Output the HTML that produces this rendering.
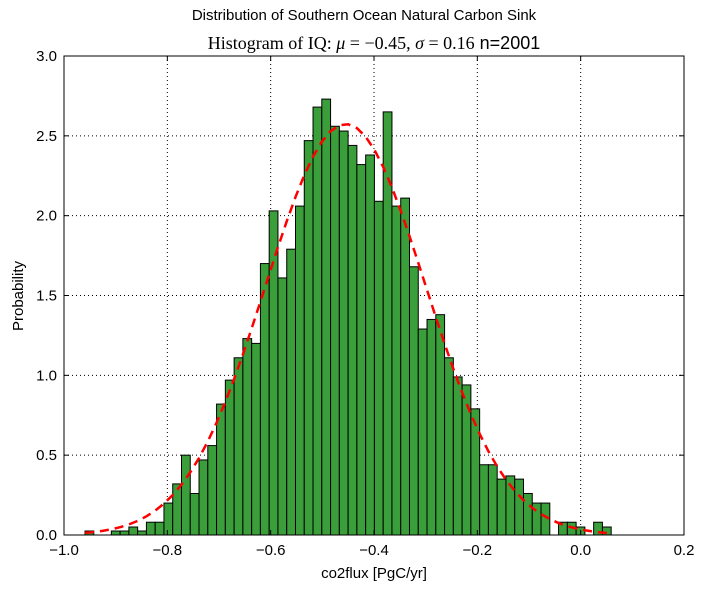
<!DOCTYPE html>
<html><head><meta charset="utf-8"><style>
body{margin:0;background:#fff;}
svg text{font-family:"Liberation Sans",sans-serif;fill:#000;}
</style></head><body>
<svg id="chart" width="708" height="587" xmlns="http://www.w3.org/2000/svg">
<rect width="708" height="587" fill="#fff"/>
<text x="364" y="20" font-size="15" text-anchor="middle">Distribution of Southern Ocean Natural Carbon Sink</text>
<text x="374" y="49" font-size="18" text-anchor="middle"><tspan font-family="Liberation Serif, serif">Histogram of IQ: <tspan font-style="italic">μ</tspan> = −0.45, <tspan font-style="italic">σ</tspan> = 0.16</tspan> n=2001</text>
<g id="grid"></g>
<g id="bars"></g>
<path id="curve" fill="none" stroke="#ff0000" stroke-width="2.5" stroke-dasharray="9,6"/>
<rect x="64" y="56" width="620" height="479" fill="none" stroke="#000" stroke-width="1"/>
<g id="ticks"></g>
<text x="218" y="578" font-size="15" text-anchor="middle" transform="translate(156,0)">co2flux [PgC/yr]</text>
<text transform="translate(23,296) rotate(-90)" font-size="15" text-anchor="middle">Probability</text>
</svg>
<script>
const binStart = -0.9593;
const binWidth = 0.016973;
const counts = [0.025,0,0,0.025,0.025,0.05,0.025,0.08,0.08,0.2,0.32,0.50,0.26,0.47,0.56,0.82,0.97,1.11,1.23,1.20,
1.70,2.03,1.61,1.79,2.06,2.47,2.68,2.73,2.56,2.53,2.44,2.32,2.38,2.09,2.65,2.06,2.11,1.68,1.29,1.35,
1.38,1.11,0.99,0.94,0.79,0.44,0.44,0.35,0.37,0.35,0.26,0.20,0.20,0,0.08,0.08,0.05,0,0.08,0.05];
const xTicks = [-1.0,-0.8,-0.6,-0.4,-0.2,0.0,0.2];
const xTickLabels = ["\u22121.0","\u22120.8","\u22120.6","\u22120.4","\u22120.2","0.0","0.2"];
const yTicks = [0,0.5,1.0,1.5,2.0,2.5,3.0];
const yTickLabels = ["0.0","0.5","1.0","1.5","2.0","2.5","3.0"];
const mu = -0.455, sigma = 0.155;

const NS="http://www.w3.org/2000/svg";
const X0=64,X1=684,Y0=535,Y1=56;
const xs=v=>X0+(v+1.0)/1.2*(X1-X0);
const ys=v=>Y0-v/3.0*(Y0-Y1);
function mk(tag,attrs,parent){const e=document.createElementNS(NS,tag);for(const k in attrs)e.setAttribute(k,attrs[k]);parent.appendChild(e);return e;}
const grid=document.getElementById('grid'),bars=document.getElementById('bars'),ticks=document.getElementById('ticks');
xTicks.forEach((t,i)=>{
  const x=xs(t);
  if(i>0&&i<xTicks.length-1){const g=mk('line',{x1:x,x2:x,y1:Y1,y2:Y0,stroke:'#000','stroke-width':1,'stroke-dasharray':'1,3'},grid);
  
  }
  const tl=mk('text',{x:x,y:Y0+20,'font-size':15,'text-anchor':'middle'},ticks);tl.textContent=xTickLabels[i];
  
  
  mk('line',{x1:x,x2:x,y1:Y0,y2:Y0-5,stroke:'#000'},ticks);
  mk('line',{x1:x,x2:x,y1:Y1,y2:Y1+5,stroke:'#000'},ticks);
});
yTicks.forEach((t,i)=>{
  const y=ys(t);
  if(i>0&&i<yTicks.length-1){const g=mk('line',{x1:X0,x2:X1,y1:y,y2:y,stroke:'#000','stroke-width':1,'stroke-dasharray':'1,3'},grid);
  
  }
  const tl=mk('text',{x:X0-7,y:y+5,'font-size':15,'text-anchor':'end'},ticks);tl.textContent=yTickLabels[i];
  
  
  mk('line',{x1:X0,x2:X0+5,y1:y,y2:y,stroke:'#000'},ticks);
  mk('line',{x1:X1,x2:X1-5,y1:y,y2:y,stroke:'#000'},ticks);
});
counts.forEach((c,i)=>{
  if(c<=0)return;
  const l=xs(binStart+i*binWidth),r=xs(binStart+(i+1)*binWidth);
  const b=mk('rect',{x:l,y:ys(c),width:r-l,height:ys(0)-ys(c),fill:'#3a9e3a',stroke:'#000','stroke-width':1},bars);
  
  
});
let d='';
for(let i=0;i<=counts.length;i++){
  const v=binStart+i*binWidth;
  const p=Math.exp(-0.5*((v-mu)/sigma)**2)/(sigma*Math.sqrt(2*Math.PI));
  d+=(i?'L':'M')+xs(v).toFixed(2)+','+ys(p).toFixed(2);
}
document.getElementById('curve').setAttribute('d',d);
</script>
</body></html>
